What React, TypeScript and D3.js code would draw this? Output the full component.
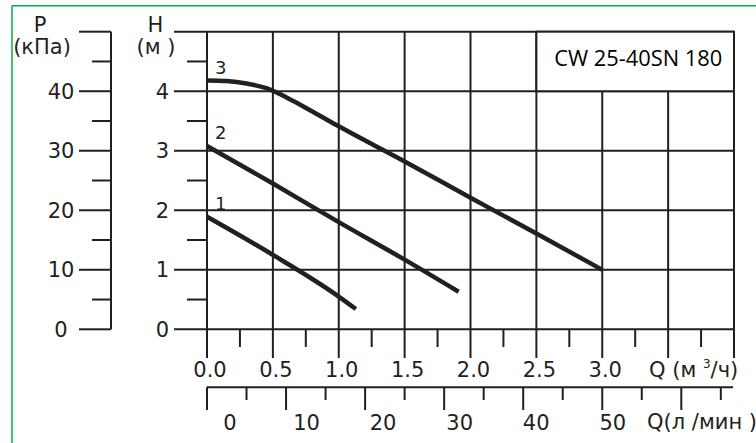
import React from "react";
import * as d3 from "d3";

// ---- data ----
const qTicksMajor = [0, 0.5, 1.0, 1.5, 2.0, 2.5, 3.0, 3.5, 4.0];
const qTickLabels = ["0.0", "0.5", "1.0", "1.5", "2.0", "2.5", "3.0"];
const hTicksMajor = [0, 1, 2, 3, 4, 5];
const hTickLabels = ["0", "1", "2", "3", "4"];
const pTicksMajor = [0, 10, 20, 30, 40, 50];
const pTickLabels = ["0", "10", "20", "30", "40"];
const lTicks = [0, 5, 10, 15, 20, 25, 30, 35, 40, 45, 50, 55, 60, 65];
const lTickLabels = ["0", "10", "20", "30", "40", "50"];

const curve1Q = [0, 0.5, 1.0, 1.13];
const curve1H = [1.89, 1.25, 0.55, 0.34];
const curve2Q = [0, 0.5, 1.0, 1.5, 1.91];
const curve2H = [3.08, 2.45, 1.8, 1.17, 0.63];
const curve3Q = [0, 0.15, 0.3, 0.45, 0.6, 0.8, 1.0, 1.5, 2.0, 2.5, 3.0];
const curve3H = [4.18, 4.17, 4.13, 4.05, 3.9, 3.66, 3.41, 2.82, 2.21, 1.61, 1.0];
const curveNames = ["1", "2", "3"];
const title = "CW 25-40SN 180";

const INK = "#231f20";
const GREEN = "#00b050";
const FONT = "'DejaVu Sans', sans-serif";

export default function App() {
  const x = d3.scaleLinear().domain([0, 4]).range([207, 734]);
  const y = d3.scaleLinear().domain([0, 5]).range([329.3, 31.7]);
  const yP = d3.scaleLinear().domain([0, 50]).range([329.3, 31.7]);
  const xL = d3.scaleLinear().domain([0, 4 / 0.06]).range([207, 734]);

  const line = d3
    .line<[number, number]>()
    .x((d) => x(d[0]))
    .y((d) => y(d[1]))
    .curve(d3.curveMonotoneX);

  const curves = [
    curve1Q.map((q, i) => [q, curve1H[i]] as [number, number]),
    curve2Q.map((q, i) => [q, curve2H[i]] as [number, number]),
    curve3Q.map((q, i) => [q, curve3H[i]] as [number, number]),
  ];

  const hMinor = d3.range(0.5, 5, 1);
  const pMinor = d3.range(5, 50, 10);
  const qMinor = d3.range(0.25, 4, 0.5);

  const yTop = y(5);
  const y0 = y(0);
  const xAxisLeft = 174;
  const pAxisX = 111;
  const lAxisY = 387.3;

  return (
    <svg
      width={756}
      height={443}
      style={{ position: "fixed", left: 0, top: 0, background: "#fff" }}
      fontFamily={FONT}
    >
      <rect x={0} y={0} width={756} height={443} fill="#fff" />
      {/* green frame */}
      <line x1={12} y1={5.7} x2={756} y2={5.7} stroke={GREEN} strokeWidth={1.5} />
      <line x1={12} y1={5.7} x2={12} y2={443} stroke={GREEN} strokeWidth={1.5} />

      {/* horizontal grid lines (H major) */}
      {hTicksMajor.map((h) => (
        <line key={"hg" + h} x1={xAxisLeft} x2={x(4)} y1={y(h)} y2={y(h)} stroke={INK} strokeWidth={2} />
      ))}
      {/* H minor ticks */}
      {hMinor.map((h) => (
        <line key={"hm" + h} x1={187} x2={x(0)} y1={y(h)} y2={y(h)} stroke={INK} strokeWidth={2} />
      ))}
      {/* vertical grid lines (Q major) extending below axis */}
      {qTicksMajor.map((q) => (
        <line key={"qg" + q} x1={x(q)} x2={x(q)} y1={yTop} y2={358} stroke={INK} strokeWidth={2} />
      ))}
      {/* Q minor ticks */}
      {qMinor.map((q) => (
        <line key={"qm" + q} x1={x(q)} x2={x(q)} y1={y0} y2={347} stroke={INK} strokeWidth={2} />
      ))}

      {/* legend box */}
      <rect
        x={x(2.5)}
        y={y(5)}
        width={x(4) - x(2.5)}
        height={y(4) - y(5)}
        fill="#fff"
        stroke={INK}
        strokeWidth={2}
      />
      <text
        x={(x(2.5) + x(4)) / 2 + 3}
        y={66}
        textAnchor="middle"
        fontFamily="'Open Sans', sans-serif"
        fontSize={21.5}
        fill="#000"
        textLength={168}
        lengthAdjust="spacingAndGlyphs"
      >
        {title}
      </text>

      {/* P axis */}
      <line x1={pAxisX} x2={pAxisX} y1={yTop} y2={y0} stroke={INK} strokeWidth={2} />
      {pTicksMajor.map((p) => (
        <line key={"pt" + p} x1={79} x2={pAxisX} y1={yP(p)} y2={yP(p)} stroke={INK} strokeWidth={2} />
      ))}
      {pMinor.map((p) => (
        <line key={"pm" + p} x1={92} x2={pAxisX} y1={yP(p)} y2={yP(p)} stroke={INK} strokeWidth={2} />
      ))}
      {pTickLabels.map((t) => (
        <text key={"pl" + t} x={61} y={yP(+t) + 7.5} textAnchor="middle" fontSize={21} fill={INK}>
          {t}
        </text>
      ))}
      <text x={40} y={32} textAnchor="middle" fontSize={21} fill={INK}>P</text>
      <text x={42} y={54} textAnchor="middle" fontSize={21} fill={INK}>(кПа)</text>

      {/* H axis labels */}
      {hTickLabels.map((t) => (
        <text key={"hl" + t} x={162.5} y={y(+t) + 7.5} textAnchor="middle" fontSize={21} fill={INK}>
          {t}
        </text>
      ))}
      <text x={155.5} y={32} textAnchor="middle" fontSize={21} fill={INK}>H</text>
      <text x={156} y={54} textAnchor="middle" fontSize={21} fill={INK} xmlSpace="preserve">(м )</text>

      {/* Q m3/h labels */}
      {qTickLabels.map((t) => (
        <text key={"ql" + t} x={x(+t) + 3} y={377} textAnchor="middle" fontSize={21} fill={INK}>
          {t}
        </text>
      ))}
      <text x={649} y={377} fontSize={21} fill={INK} xmlSpace="preserve">
        <tspan>Q (м </tspan>
        <tspan fontSize={12} dy={-9}>3</tspan>
        <tspan dy={9}>/ч)</tspan>
      </text>

      {/* l/min axis */}
      <line x1={xL(0)} x2={733} y1={lAxisY} y2={lAxisY} stroke={INK} strokeWidth={2} />
      {lTicks.map((v) => (
        <line
          key={"lt" + v}
          x1={xL(v)}
          x2={xL(v)}
          y1={lAxisY}
          y2={v % 10 === 0 ? 410 : 400}
          stroke={INK}
          strokeWidth={2}
        />
      ))}
      {lTickLabels.map((t) => (
        <text key={"ll" + t} x={xL(+t) + 23 - 0.25 * +t} y={430} textAnchor="middle" fontSize={21} fill={INK}>
          {t}
        </text>
      ))}
      <text x={647} y={429} fontSize={21} fill={INK} xmlSpace="preserve">Q(л /мин )</text>

      {/* curves */}
      {curves.map((c, i) => (
        <path key={"c" + i} d={line(c) || ""} fill="none" stroke={INK} strokeWidth={4.5} strokeLinecap="butt" />
      ))}
      {curves.map((c, i) => (
        <text key={"cn" + i} x={215} y={y(c[0][1]) - 7} fontSize={18} fill={INK}>
          {curveNames[i]}
        </text>
      ))}
    </svg>
  );
}
